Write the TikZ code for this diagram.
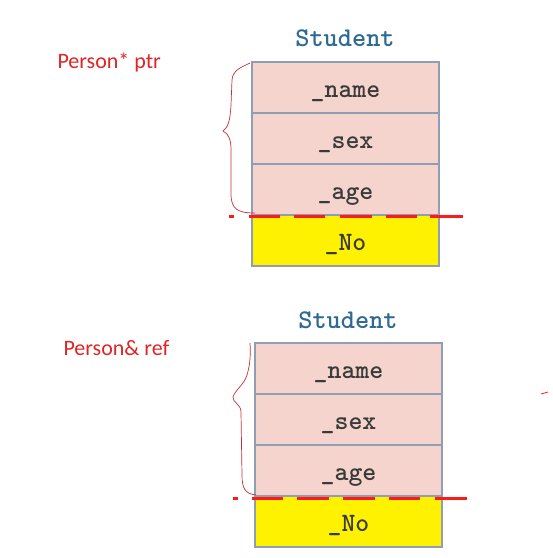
\documentclass[tikz,border=0pt]{standalone}
\usepackage{fontspec}
\newfontfamily\monofnt{lmmonolt10-bold.otf}
\newfontfamily\labfnt{Carlito}
\definecolor{pinkfill}{HTML}{F4D4CC}
\definecolor{boxborder}{HTML}{8F9DB5}
\definecolor{titleblue}{HTML}{2F6A93}
\definecolor{fieldtext}{HTML}{3A3A3A}
\definecolor{redline}{HTML}{FF1A1A}
\definecolor{bracered}{HTML}{C0303A}
\definecolor{labred}{HTML}{E02424}
\begin{document}
\begin{tikzpicture}[x=1pt,y=-1pt,
  field/.style={draw=boxborder,line width=1.4pt,fill=pinkfill,minimum width=187pt,minimum height=51pt,inner sep=0pt,
     text height=19pt,text depth=0pt,
     font=\monofnt\fontsize{26.5}{26.5}\selectfont,text=fieldtext},
  yfield/.style={field,fill=yellow},
  title/.style={font=\monofnt\fontsize{27}{27}\selectfont,text=titleblue},
  lab/.style={font=\labfnt\fontsize{22}{22}\selectfont,text=labred,anchor=west},
  cutseg/.style={draw=redline,line width=3.5pt},
  brace/.style={draw=bracered,line width=0.7pt}]
\useasboundingbox (0,0) rectangle (553,558);
% top block
\node[title] (t1) at (345,38.5) {Student};
\node[field] (n1) at (345.5,87.5) {\_name};
\node[field] (s1) at (345.5,138.5) {\_sex};
\node[field] (a1) at (345.5,189.5) {\_age};
\node[yfield] (o1) at (345.5,240.5) {\_No};
\foreach \a/\b in {229/234,249/280,294/325,340/372,386/417,430/463}
  \draw[cutseg] (\a,216.5) -- (\b,216.5);
\node[lab] (l1) at (54,62) {Person* ptr};
\draw[brace] (250,63) .. controls (240,68) and (233,70) .. (232,80)
  -- (231,105) .. controls (230,122) and (228,127) .. (223,131)
  .. controls (229,134) and (231,140) .. (231,150)
  -- (231,196) .. controls (232,208) and (236,213) .. (255,213);
% bottom block
\node[title] (t2) at (348,320.5) {Student};
\node[field] (n2) at (348.5,368.5) {\_name};
\node[field] (s2) at (348.5,419.5) {\_sex};
\node[field] (a2) at (348.5,470.5) {\_age};
\node[yfield] (o2) at (348.5,521.5) {\_No};
\foreach \a/\b in {233/238,252/283,297/329,343/375,389/420,435/467}
  \draw[cutseg] (\a,498.5) -- (\b,498.5);
\node[lab] (l2) at (60,348) {Person\& ref};
\draw[brace] (250,343) .. controls (251,360) and (249,368) .. (247,375)
  .. controls (244,385) and (235,390) .. (233,397)
  .. controls (232,402) and (241,404) .. (241,412)
  -- (242,475) .. controls (242,488) and (245,494) .. (256,495);
\draw[redline,line width=0.8pt] (541,394) -- (548,392);
\end{tikzpicture}
\end{document}
